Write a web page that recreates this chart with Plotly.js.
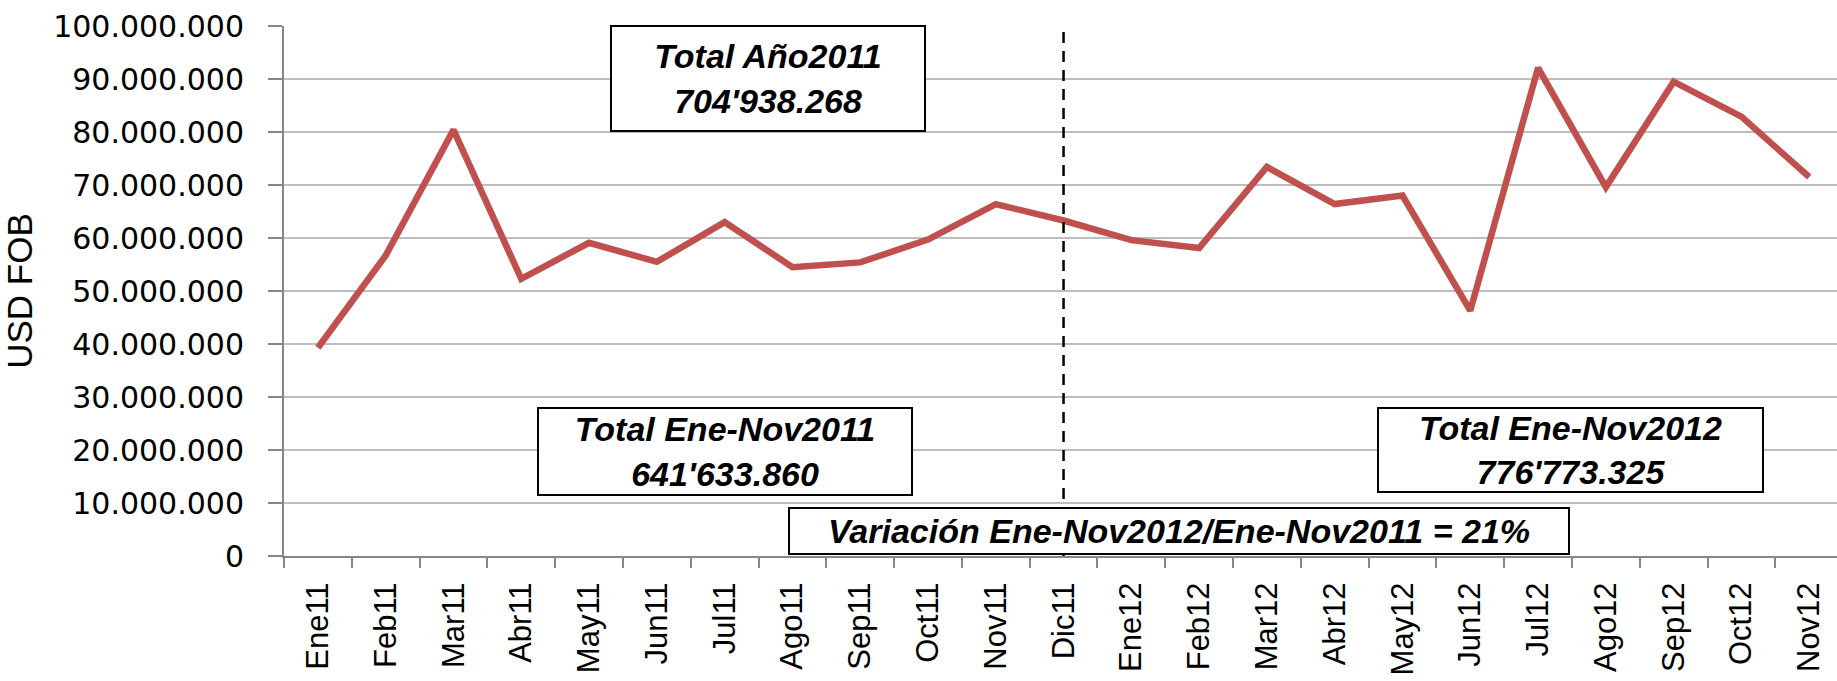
<!DOCTYPE html>
<html>
<head>
<meta charset="utf-8">
<script src="https://cdn.plot.ly/plotly-3.0.1.min.js"></script>
<style>
  html, body { margin: 0; padding: 0; background: #ffffff; overflow: hidden; }
  #chart { width: 1837px; height: 681px; }
</style>
</head>
<body>
<div id="chart"></div>
<script>
// ---- Data ----
const months = ['Ene11','Feb11','Mar11','Abr11','May11','Jun11','Jul11','Ago11','Sep11','Oct11','Nov11','Dic11',
                'Ene12','Feb12','Mar12','Abr12','May12','Jun12','Jul12','Ago12','Sep12','Oct12','Nov12'];
const usdFob = [39300000, 56700000, 80400000, 52300000, 59100000, 55500000, 63000000, 54500000, 55400000, 59700000, 66400000, 63300000,
                59600000, 58100000, 73400000, 66400000, 68000000, 46300000, 92100000, 69600000, 89500000, 82900000, 71500000];
const dividerMonth = 'Dic11';
const yTitle = 'USD FOB';
const boxTexts = [
  "Total Año2011<br>704'938.268",
  "Total Ene-Nov2011<br>641'633.860",
  "Total Ene-Nov2012<br>776'773.325",
  "Variación Ene-Nov2012/Ene-Nov2011 = 21%"
];

const boxFont = { family: 'Liberation Sans, Arial, sans-serif', size: 34, color: '#000000', weight: 'bold', style: 'italic' };

function box(text, x, y, w, h) {
  return {
    text: text, xref: 'paper', yref: 'paper', x: x, y: y,
    xanchor: 'center', yanchor: 'middle', showarrow: false,
    width: w, height: h, align: 'center', valign: 'middle',
    bgcolor: '#ffffff', bordercolor: '#000000', borderwidth: 2, borderpad: 0,
    font: boxFont
  };
}

const trace = {
  type: 'scatter', mode: 'lines',
  x: months, y: usdFob,
  line: { color: '#C0504D', width: 6.5 },
  hoverinfo: 'x+y'
};

const layout = {
  width: 1837, height: 681,
  margin: { l: 284, r: 0, t: 26, b: 125 },
  paper_bgcolor: '#ffffff', plot_bgcolor: '#ffffff',
  separators: ',.',
  showlegend: false,
  xaxis: {
    type: 'category',
    range: [-0.5, 22.41],
    tickson: 'boundaries',
    showgrid: false,
    showline: true, linecolor: '#868686', linewidth: 2,
    ticks: 'outside', ticklen: 10, tickwidth: 2, tickcolor: '#868686',
    tickangle: -90,
    ticklabelstandoff: 12,
    tickfont: { family: 'Liberation Sans, Arial, sans-serif', size: 31, color: '#000000' },
    zeroline: false, fixedrange: true
  },
  yaxis: {
    range: [0, 100000000],
    dtick: 10000000, tick0: 0,
    tickformat: ',d',
    showgrid: true, gridcolor: '#BEBEBE', gridwidth: 2,
    showline: true, linecolor: '#868686', linewidth: 2,
    ticks: 'outside', ticklen: 14, tickwidth: 2, tickcolor: '#868686',
    ticklabelstandoff: 18,
    tickfont: { family: 'DejaVu Sans, Verdana, sans-serif', size: 30, color: '#000000' },
    zeroline: false, fixedrange: true,
    title: { text: yTitle, standoff: 10,
             font: { family: 'Liberation Sans, Arial, sans-serif', size: 35, color: '#000000' } }
  },
  shapes: [{
    type: 'line', xref: 'x', yref: 'paper',
    x0: dividerMonth, x1: dividerMonth, y0: 0, y1: 1,
    line: { color: '#000000', width: 2.5, dash: '11px,8px' }
  }],
  annotations: [
    box(boxTexts[0], 0.3117, 0.9011, 312, 103),
    box(boxTexts[1], 0.2840, 0.1981, 372, 85),
    box(boxTexts[2], 0.8287, 0.2009, 383, 82),
    box(boxTexts[3], 0.5766, 0.0481, 778, 44)
  ]
};

Plotly.newPlot('chart', [trace], layout, { displayModeBar: false, staticPlot: true });
</script>
</body>
</html>
